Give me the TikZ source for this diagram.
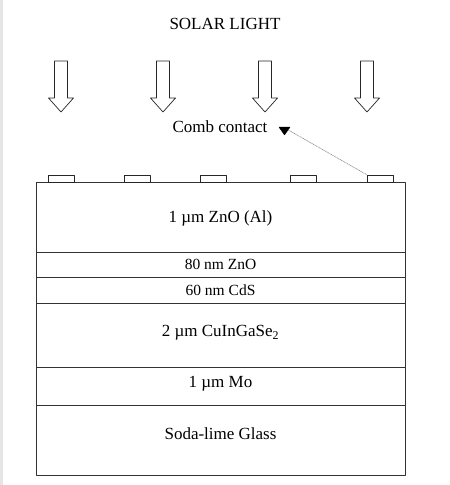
\documentclass[tikz,border=0pt]{standalone}
\usepackage{fontspec}
\setmainfont{Liberation Serif}
\usetikzlibrary{shapes.geometric}
\tikzset{
  layer/.style={draw=black!80, line width=0.8pt, minimum width=369pt, inner sep=0pt, font=\fontsize{17}{19}\selectfont},
  thinlayer/.style={layer, font=\fontsize{15.5}{17}\selectfont},
  layertext/.style={font=\fontsize{17}{19}\selectfont},
  contact/.style={draw=black!85, line width=0.7pt, minimum width=26pt, minimum height=7pt, inner sep=0pt},
  sunray/.style={draw=black!85, line width=0.7pt, fill=white},
}
\begin{document}
\begin{tikzpicture}[x=1pt, y=-1pt, line cap=round, line join=round]
    \useasboundingbox (0,0) rectangle (450,485);
    \fill[black!10] (0,0) rectangle (2.5,485);
    \node[layertext] (title) at (225,24) {SOLAR LIGHT};
    % light arrows
    \foreach \name/\x in {ray1/61, ray2/163, ray3/265, ray4/367} {
      \coordinate (\name) at (\x,61);
      \draw[sunray] (\name) ++(-6.5,0) -- ++(0,37) -- ++(-6,0) -- ++(12.5,14)
        -- ++(12.5,-14) -- ++(-6,0) -- ++(0,-37) -- cycle;
    }
    % layer stack
    \node[layer, minimum height=70pt, label={[yshift=-1.5pt, layertext]center:1 µm ZnO (Al)}] (znoal) at (220.5,217) {};
    \node[thinlayer, minimum height=25pt] (zno) at (220.5,264.5) {80 nm ZnO};
    \node[thinlayer, minimum height=26pt] (cds) at (220.5,290) {60 nm CdS};
    \node[layer, minimum height=64pt, label={[yshift=2pt, layertext]center:2 µm CuInGaSe\textsubscript{2}}] (cigs) at (220.5,335) {};
    \node[layer, minimum height=38pt, label={[yshift=2.5pt, layertext]center:1 µm Mo}] (mo) at (220.5,386) {};
    \node[layer, minimum height=70pt, label={[yshift=6.5pt, layertext]center:Soda-lime Glass}] (glass) at (220.5,440) {};
    % comb contacts
    \node[contact] (c1) at (61,178.5) {};
    \node[contact] (c2) at (137,178.5) {};
    \node[contact] (c3) at (213.5,178.5) {};
    \node[contact] (c4) at (303.5,178.5) {};
    \node[contact] (c5) at (380,178.5) {};
    \node[layertext] (comb) at (220,127) {Comb contact};
    \node[draw, fill=black, isosceles triangle, shape border rotate=270, isosceles triangle apex angle=70,
      minimum width=11pt, minimum height=7pt, inner sep=0pt] (tip) at (284.5,130) {};
    \draw[black!45, densely dotted, line width=0.7pt] (tip.east) -- (c5.north west);
  \end{tikzpicture}
\end{document}
